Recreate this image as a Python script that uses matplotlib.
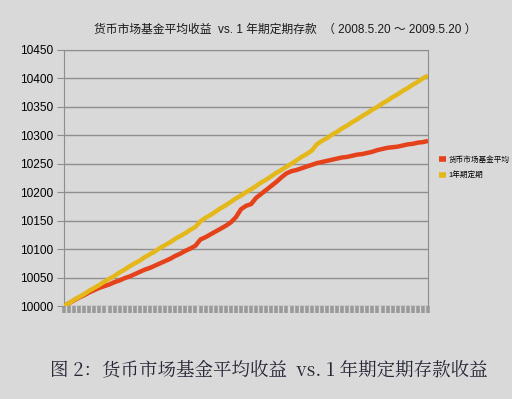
import matplotlib
matplotlib.use("Agg")
import matplotlib.pyplot as plt

plt.rcParams['font.family'] = ['Liberation Sans', 'Noto Sans CJK SC', 'DejaVu Sans']

# fund average vs 1-year deposit, 2008.5.20 - 2009.5.20
fund = [10000, 10005, 10010, 10015, 10019, 10024, 10028, 10032, 10035, 10038,
        10042, 10045, 10049, 10052, 10056, 10060, 10064, 10067, 10071, 10075,
        10079, 10083, 10088, 10092, 10097, 10101, 10106, 10117, 10121, 10126,
        10131, 10136, 10141, 10147, 10156, 10170, 10176, 10179, 10190, 10197,
        10204, 10211, 10218, 10226, 10233, 10237, 10239, 10242, 10245, 10248,
        10251, 10253, 10255, 10257, 10259, 10261, 10262, 10264, 10266, 10267,
        10269, 10271, 10274, 10276, 10278, 10279, 10280, 10282, 10284, 10285,
        10287, 10288, 10290]
deposit = [10000, 10005, 10011, 10016, 10021, 10027, 10032, 10037, 10043, 10048,
           10053, 10059, 10064, 10070, 10075, 10080, 10086, 10091, 10096, 10102,
           10107, 10112, 10118, 10123, 10128, 10134, 10139, 10149, 10155, 10160,
           10166, 10172, 10177, 10183, 10189, 10194, 10200, 10205, 10211, 10217,
           10222, 10228, 10234, 10239, 10245, 10250, 10256, 10262, 10267, 10273,
           10284, 10290, 10295, 10301, 10306, 10312, 10317, 10323, 10328, 10334,
           10339, 10345, 10350, 10356, 10361, 10367, 10372, 10378, 10383, 10389,
           10394, 10400, 10405]
labels = ["货币市场基金平均", "1年期定期"]
yticks = [10000, 10050, 10100, 10150, 10200, 10250, 10300, 10350, 10400, 10450]

bg = "#d9d9d9"
grid_c = "#8e8e8e"
red = "#e5421c"
yellow = "#e4b81a"

fig = plt.figure(figsize=(5.12, 3.99), dpi=100, facecolor=bg)
ax = fig.add_axes([0.125, 0.233, 0.711, 0.642])
ax.set_facecolor(bg)

x = list(range(len(fund)))
ax.plot(x, fund, color=red, lw=3.2, solid_capstyle="butt", label=labels[0], zorder=3)
ax.plot(x, deposit, color=yellow, lw=3.2, solid_capstyle="butt", label=labels[1], zorder=3)

ax.set_xlim(0, len(fund) - 1)
ax.set_ylim(10000, 10450)
ax.set_yticks(yticks)
ax.yaxis.grid(True, color=grid_c, lw=1)
ax.set_axisbelow(True)
ax.tick_params(axis="y", length=5, width=0.8, color=grid_c, labelsize=8.6, pad=3)
ax.set_xticks(x)
ax.set_xticklabels([])
ax.tick_params(axis="x", length=5, width=2.6, color="#9a9a9a", direction="out")
for s in ["left", "right", "top"]:
    ax.spines[s].set_color(grid_c)
    ax.spines[s].set_linewidth(0.8)
ax.spines["bottom"].set_visible(False)

leg = ax.legend(loc="center left", bbox_to_anchor=(1.01, 0.54), frameon=False,
                fontsize=5.5, handlelength=1.0, handleheight=0.6,
                handletextpad=0.3, labelspacing=1.0)
for h in leg.get_lines():
    h.set_linewidth(4)

fig.text(0.557, 0.925, "货币市场基金平均收益  vs. 1 年期定期存款  （ 2008.5.20 ～ 2009.5.20 ）",
         ha="center", va="center", fontsize=8.5, color="#1a1a1a")
fig.text(0.525, 0.07, "图 2：货币市场基金平均收益  vs. 1 年期定期存款收益",
         ha="center", va="center", fontsize=13.3, color="#252535",
         family=["Noto Serif CJK SC", "Noto Sans CJK SC", "DejaVu Serif"])

fig.savefig("out.png", dpi=100, facecolor=bg)
